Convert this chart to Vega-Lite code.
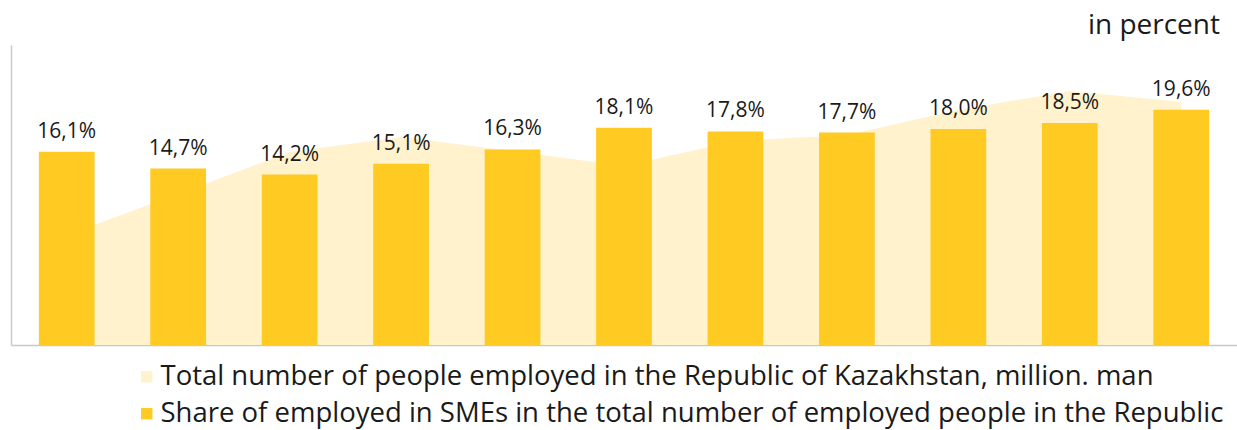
{
  "$schema": "https://vega.github.io/schema/vega-lite/v6.json",
  "width": 1226,
  "height": 300,
  "padding": {"left": 11, "top": 45, "right": 0, "bottom": 85},
  "autosize": {"type": "none"},
  "background": "white",
  "config": {"view": {"stroke": null}, "font": "Open Sans"},
  "title": {
    "text": "in percent",
    "anchor": "end",
    "orient": "top",
    "frame": "group",
    "fontSize": 28,
    "fontWeight": "normal",
    "font": "Open Sans",
    "color": "#1a1a1a",
    "offset": 12,
    "baseline": "alphabetic",
    "dx": -17,
    "dy": 29
  },
  "data": {
    "values": [
      {"year": "2010", "share": 16.1, "label": "16,1%", "total": 8.05},
      {"year": "2011", "share": 14.7, "label": "14,7%", "total": 8.255},
      {"year": "2012", "share": 14.2, "label": "14,2%", "total": 8.465},
      {"year": "2013", "share": 15.1, "label": "15,1%", "total": 8.54},
      {"year": "2014", "share": 16.3, "label": "16,3%", "total": 8.47},
      {"year": "2015", "share": 18.1, "label": "18,1%", "total": 8.395},
      {"year": "2016", "share": 17.8, "label": "17,8%", "total": 8.52},
      {"year": "2017", "share": 17.7, "label": "17,7%", "total": 8.55},
      {"year": "2018", "share": 18.0, "label": "18,0%", "total": 8.675},
      {"year": "2019", "share": 18.5, "label": "18,5%", "total": 8.77},
      {"year": "2020", "share": 19.6, "label": "19,6%", "total": 8.715}
    ]
  },
  "encoding": {
    "x": {
      "field": "year",
      "type": "ordinal",
      "scale": {"type": "band", "paddingInner": 0.5, "paddingOuter": 0.25},
      "axis": {"title": null, "labels": false, "ticks": false, "domain": true, "domainColor": "#C8C8C8", "domainWidth": 1.5, "grid": false}
    }
  },
  "layer": [
    {
      "mark": {"type": "area", "opacity": 1, "clip": true},
      "encoding": {
        "y": {"field": "total", "type": "quantitative", "stack": null, "scale": {"domain": [7.5, 9.0], "zero": false, "nice": false}, "axis": null},
        "y2": {"datum": 7.5},
        "color": {
          "datum": "Total number of people employed in the Republic of Kazakhstan, million. man",
          "type": "nominal",
          "scale": {
            "domain": [
              "Total number of people employed in the Republic of Kazakhstan, million. man",
              "Share of employed in SMEs in the total number of employed people in the Republic"
            ],
            "range": ["#FFF2CC", "#FFCA22"]
          },
          "legend": {
            "orient": "none",
            "legendX": 122,
            "legendY": 318,
            "direction": "vertical",
            "title": null,
            "symbolType": "square",
            "symbolSize": 130,
            "symbolStrokeWidth": 0,
            "labelFontSize": 27.5,
            "labelFont": "Open Sans",
            "labelLimit": 0,
            "labelColor": "#1a1a1a",
            "rowPadding": 8,
            "labelOffset": 0
          }
        }
      }
    },
    {
      "layer": [
        {
          "mark": {"type": "bar"},
          "encoding": {
            "y": {
              "field": "share",
              "type": "quantitative",
              "stack": null,
              "scale": {"domain": [0, 25], "nice": false},
              "axis": {"orient": "left", "title": null, "labels": false, "ticks": false, "grid": false, "domain": true, "domainColor": "#C8C8C8", "domainWidth": 1.5}
            },
            "color": {
              "datum": "Share of employed in SMEs in the total number of employed people in the Republic",
              "type": "nominal"
            }
          }
        },
        {
          "mark": {"type": "text", "baseline": "alphabetic", "dy": -14, "fontSize": 21, "font": "Open Sans", "color": "#1a1a1a"},
          "encoding": {
            "y": {"field": "share", "type": "quantitative", "scale": {"domain": [0, 25], "nice": false}},
            "text": {"field": "label"}
          }
        }
      ]
    }
  ],
  "resolve": {"scale": {"y": "independent"}}
}
